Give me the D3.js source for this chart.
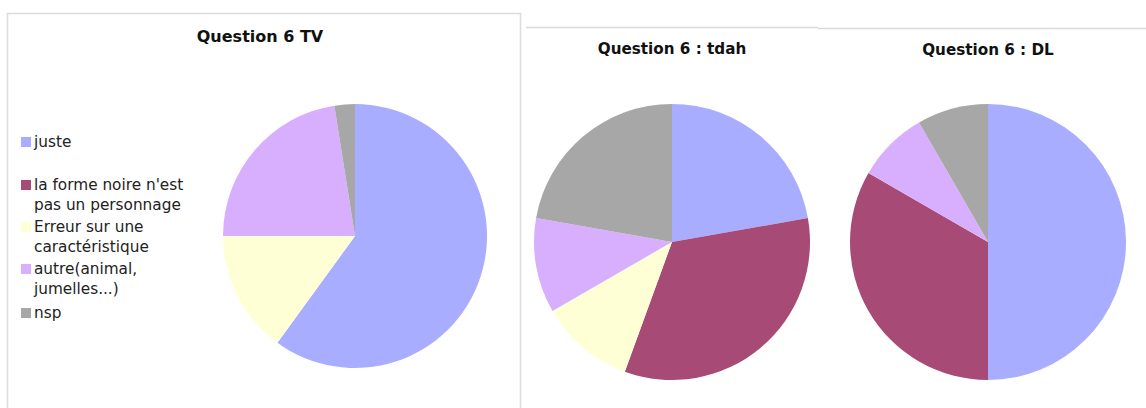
<!DOCTYPE html>
<html>
<head>
<meta charset="utf-8">
<script src="https://cdn.jsdelivr.net/npm/d3@7"></script>
<style>
  body { margin: 0; background: #fff; }
  svg { display: block; }
</style>
</head>
<body>
<div id="chart-area"></div>
<script>
const WIDTH = 1146
const HEIGHT = 408

// Data
const categories = ["juste", "la forme noire n'est pas un personnage", "Erreur sur une caractéristique", "autre(animal, jumelles...)", "nsp"]
const legendLines = [["juste"], ["la forme noire n'est", "pas un personnage"], ["Erreur sur une", "caractéristique"], ["autre(animal,", "jumelles...)"], ["nsp"]]
const sliceColors = ["#a8adff", "#a84a76", "#ffffd5", "#d7affe", "#a7a7a7"]
const tvValues = [24, 0, 6, 9, 1]
const tdahValues = [2, 3, 1, 1, 2]
const dlValues = [6, 4, 0, 1, 1]
const titles = ["Question 6 TV", "Question 6 : tdah", "Question 6 : DL"]

const svg = d3.select("#chart-area").append("svg")
  .attr("width", WIDTH)
  .attr("height", HEIGHT)

const color = d3.scaleOrdinal()
  .domain(categories)
  .range(sliceColors)

// frames
svg.append("path")
  .attr("d", "M7.5,408 V13.5 H520.5 V408")
  .attr("fill", "none")
  .attr("stroke", "#dcdcdc")
  .attr("stroke-width", 1.5)
svg.append("line")
  .attr("x1", 526).attr("x2", 818).attr("y1", 27.5).attr("y2", 27.5)
  .attr("stroke", "#dadada").attr("stroke-width", 1.5)
svg.append("line")
  .attr("x1", 818).attr("x2", WIDTH).attr("y1", 28.5).attr("y2", 28.5)
  .attr("stroke", "#dadada").attr("stroke-width", 1.5)

const charts = [
  {values: tvValues, title: titles[0], cx: 355, cy: 236, r: 132, tx: 260, ty: 42, fs: 16},
  {values: tdahValues, title: titles[1], cx: 672, cy: 242, r: 138, tx: 672, ty: 54, fs: 15.2},
  {values: dlValues, title: titles[2], cx: 988, cy: 242, r: 138, tx: 988, ty: 55, fs: 15.2}
]

const pie = d3.pie().sort(null).value(d => d.value)

charts.forEach(c => {
  const data = categories.map((cat, i) => ({cat: cat, value: c.values[i]}))
  const arc = d3.arc().innerRadius(0).outerRadius(c.r)

  const g = svg.append("g")
    .attr("transform", `translate(${c.cx}, ${c.cy})`)

  g.selectAll("path")
    .data(pie(data).filter(d => d.data.value > 0))
    .enter().append("path")
      .attr("d", arc)
      .attr("fill", d => color(d.data.cat))

  svg.append("text")
    .attr("x", c.tx)
    .attr("y", c.ty)
    .attr("text-anchor", "middle")
    .attr("font-family", "DejaVu Sans, Verdana, sans-serif")
    .attr("font-weight", "bold")
    .attr("font-size", c.fs + "px")
    .attr("fill", "#111")
    .text(c.title)
})

// Legend
const legendTop = [142, 185, 227, 269, 313]
const legend = svg.append("g")

legendLines.forEach((lines, i) => {
  const row = legend.append("g")
    .attr("transform", `translate(0, ${legendTop[i]})`)

  row.append("rect")
    .attr("x", 21)
    .attr("y", -5)
    .attr("width", 10)
    .attr("height", 10)
    .attr("fill", color(categories[i]))

  lines.forEach((line, j) => {
    row.append("text")
      .attr("x", 34)
      .attr("y", j * 20 + 5)
      .attr("font-family", "DejaVu Sans, Verdana, sans-serif")
      .attr("font-size", "15.3px")
      .attr("fill", "#222")
      .text(line)
  })
})
</script>
</body>
</html>
